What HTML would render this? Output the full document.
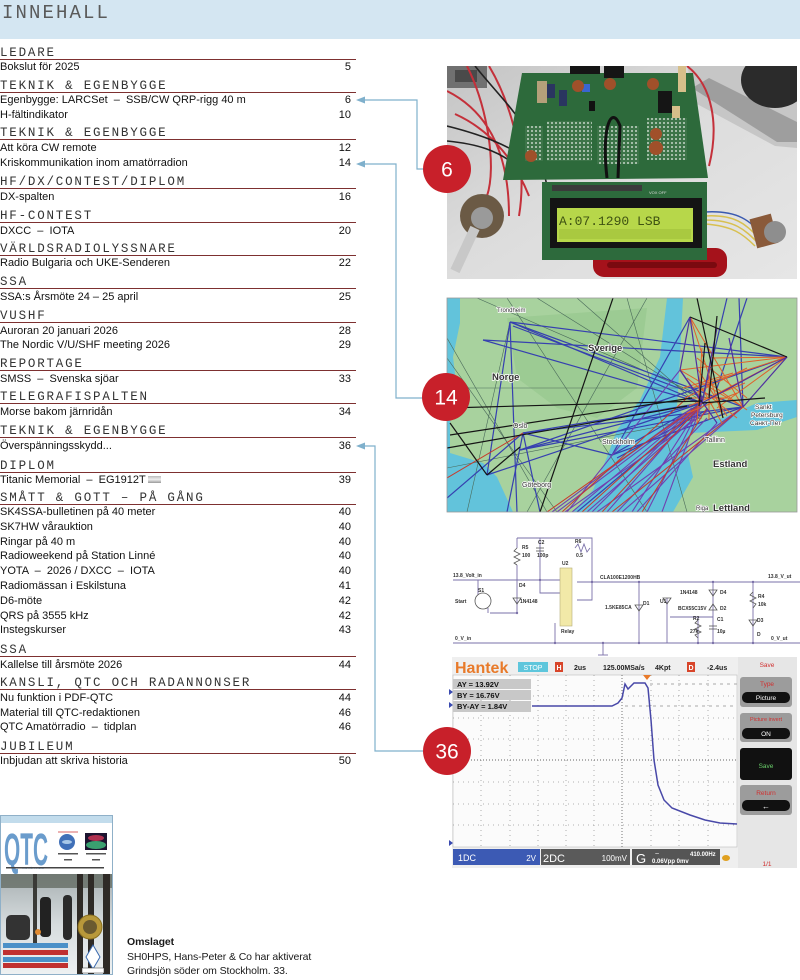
<!DOCTYPE html>
<html><head><meta charset="utf-8">
<style>
html,body{margin:0;padding:0;background:#fff;}
body{width:800px;height:980px;position:relative;overflow:hidden;font-family:"Liberation Sans",sans-serif;}
.band{position:absolute;left:0;top:0;width:800px;height:39px;background:#d4e6f2;}
.title{position:absolute;left:2px;top:2px;font:19px/22px "Liberation Mono",monospace;letter-spacing:2.1px;color:#5a5a5a;}
.sec{position:absolute;left:0;width:356px;}
.h{height:13px;padding-top:1px;border-bottom:1.5px solid #7d3030;font:12.5px/14px "Liberation Mono",monospace;letter-spacing:1.8px;color:#333;white-space:nowrap;}
.i{height:14.8px;line-height:14.8px;font-size:11px;color:#111;position:relative;top:0.5px;white-space:nowrap;}
.i b{position:absolute;right:5px;top:0;font-weight:normal;}
.flag{display:inline-block;width:13px;height:7px;background:linear-gradient(180deg,#bbb,#eee 50%,#999);vertical-align:0px;margin-left:2px;}
.cap{position:absolute;left:127px;top:935px;font-size:10.5px;line-height:14.5px;color:#1a1a1a;letter-spacing:-0.1px;}
svg{position:absolute;left:0;top:0;}
</style></head><body>
<div class="band"></div>
<div class="title">INNEHALL</div>

<div class="sec" style="top:44.8px"><div class="h">LEDARE</div>
<div class="i">Bokslut för 2025<b>5</b></div></div>

<div class="sec" style="top:77.5px"><div class="h">TEKNIK &amp; EGENBYGGE</div>
<div class="i">Egenbygge: LARCSet &nbsp;– &nbsp;SSB/CW QRP-rigg 40 m<b>6</b></div>
<div class="i">H-fältindikator<b>10</b></div></div>

<div class="sec" style="top:125.3px"><div class="h">TEKNIK &amp; EGENBYGGE</div>
<div class="i">Att köra CW remote<b>12</b></div>
<div class="i">Kriskommunikation inom amatörradion<b>14</b></div></div>

<div class="sec" style="top:174.3px"><div class="h">HF/DX/CONTEST/DIPLOM</div>
<div class="i">DX-spalten<b>16</b></div></div>

<div class="sec" style="top:208px"><div class="h">HF-CONTEST</div>
<div class="i">DXCC &nbsp;– &nbsp;IOTA<b>20</b></div></div>

<div class="sec" style="top:240.6px"><div class="h">VÄRLDSRADIOLYSSNARE</div>
<div class="i">Radio Bulgaria och UKE-Senderen<b>22</b></div></div>

<div class="sec" style="top:274.3px"><div class="h">SSA</div>
<div class="i">SSA:s Årsmöte 24 – 25 april<b>25</b></div></div>

<div class="sec" style="top:308px"><div class="h">VUSHF</div>
<div class="i">Auroran 20 januari 2026<b>28</b></div>
<div class="i">The Nordic V/U/SHF meeting 2026<b>29</b></div></div>

<div class="sec" style="top:356.3px"><div class="h">REPORTAGE</div>
<div class="i">SMSS &nbsp;– &nbsp;Svenska sjöar<b>33</b></div></div>

<div class="sec" style="top:389.3px"><div class="h">TELEGRAFISPALTEN</div>
<div class="i">Morse bakom järnridån<b>34</b></div></div>

<div class="sec" style="top:423px"><div class="h">TEKNIK &amp; EGENBYGGE</div>
<div class="i">Överspänningsskydd...<b>36</b></div></div>

<div class="sec" style="top:457.6px"><div class="h">DIPLOM</div>
<div class="i">Titanic Memorial &nbsp;– &nbsp;EG1912T<span class="flag"></span><b>39</b></div></div>

<div class="sec" style="top:489.6px"><div class="h">SMÅTT &amp; GOTT – PÅ GÅNG</div>
<div class="i">SK4SSA-bulletinen på 40 meter<b>40</b></div>
<div class="i">SK7HW vårauktion<b>40</b></div>
<div class="i">Ringar på 40 m<b>40</b></div>
<div class="i">Radioweekend på Station Linné<b>40</b></div>
<div class="i">YOTA &nbsp;– &nbsp;2026 / DXCC &nbsp;– &nbsp;IOTA<b>40</b></div>
<div class="i">Radiomässan i Eskilstuna<b>41</b></div>
<div class="i">D6-möte<b>42</b></div>
<div class="i">QRS på 3555 kHz<b>42</b></div>
<div class="i">Instegskurser<b>43</b></div></div>

<div class="sec" style="top:642px"><div class="h">SSA</div>
<div class="i">Kallelse till årsmöte 2026<b>44</b></div></div>

<div class="sec" style="top:675.3px"><div class="h">KANSLI, QTC OCH RADANNONSER</div>
<div class="i">Nu funktion i PDF-QTC<b>44</b></div>
<div class="i">Material till QTC-redaktionen<b>46</b></div>
<div class="i">QTC Amatörradio &nbsp;– &nbsp;tidplan<b>46</b></div></div>

<div class="sec" style="top:738.6px"><div class="h">JUBILEUM</div>
<div class="i">Inbjudan att skriva historia<b>50</b></div></div>

<div class="cap"><b>Omslaget</b><br>SH0HPS, Hans-Peter &amp; Co har aktiverat<br>Grindsjön söder om Stockholm. 33.</div>

<svg width="800" height="980" viewBox="0 0 800 980" xmlns="http://www.w3.org/2000/svg" font-family="Liberation Sans, sans-serif">
<defs>
<clipPath id="cp1"><rect x="447" y="66" width="350" height="213"/></clipPath>
<clipPath id="cp2"><rect x="447" y="298" width="350" height="214"/></clipPath>
<clipPath id="cp3"><rect x="0" y="815" width="113" height="160"/></clipPath>
<linearGradient id="bg1" x1="0" y1="0" x2="1" y2="1"><stop offset="0" stop-color="#c4c4c4"/><stop offset="0.45" stop-color="#dcdcdc"/><stop offset="1" stop-color="#e6e6e6"/></linearGradient>
<pattern id="dots" width="4" height="4" patternUnits="userSpaceOnUse"><rect width="4" height="4" fill="#3c7448"/><rect width="2" height="2" fill="#a3bda8"/></pattern>
<linearGradient id="snow" x1="0" y1="0" x2="0" y2="1"><stop offset="0" stop-color="#a8b0b2"/><stop offset="0.5" stop-color="#d6dcde"/><stop offset="1" stop-color="#eef1f2"/></linearGradient>
</defs>

<!-- PHOTO 1 -->
<g clip-path="url(#cp1)"><g transform="translate(447,66)">
<rect width="350" height="213" fill="url(#bg1)"/>
<rect x="0" y="0" width="40" height="22" fill="#707070"/>
<rect x="8" y="4" width="22" height="12" fill="#4a4a4a"/>
<polygon points="240,0 350,0 350,82 328,80 250,38" fill="#c6c6c6"/>
<polygon points="245,22 262,12 350,56 350,76 330,76" fill="#9e9e9e"/>
<ellipse cx="328" cy="14" rx="34" ry="28" fill="#2b2b2b"/>
<path d="M0 25 C40 45 62 85 62 150 M8 48 C48 66 70 100 82 130 M42 0 C60 30 82 90 72 150 M20 0 C40 40 50 100 40 130" stroke="#c4303a" stroke-width="2" fill="none"/>
<path d="M28 0 C60 40 88 60 100 120 M0 60 C40 70 60 80 80 92 M0 75 C30 78 50 84 70 100" stroke="#222" stroke-width="1.6" fill="none"/>
<path d="M240 0 C266 20 272 60 262 100" stroke="#c4303a" stroke-width="2" fill="none"/>
<rect x="146" y="182" width="134" height="29" rx="11" fill="#a5121b"/>
<rect x="160" y="196" width="110" height="6" rx="3" fill="#7a0a10"/>
<polygon points="75,7 246,7 261,112 56,114" fill="#2d6a3b"/>
<rect x="100" y="55" width="45" height="40" fill="url(#dots)"/>
<rect x="150" y="60" width="42" height="38" fill="url(#dots)"/>
<rect x="200" y="52" width="40" height="42" fill="url(#dots)"/>
<rect x="78" y="60" width="18" height="35" fill="url(#dots)"/>
<rect x="100" y="18" width="8" height="14" fill="#2a3560"/>
<rect x="112" y="24" width="8" height="16" fill="#2a3560"/>
<rect x="90" y="15" width="10" height="22" fill="#b5a07a"/>
<rect x="123" y="0" width="30" height="8" fill="#151515"/>
<rect x="157" y="0" width="20" height="12" fill="#151515"/>
<rect x="135" y="18" width="8" height="8" fill="#3a66d0"/>
<circle cx="131" cy="20" r="6" fill="#a0502a"/><circle cx="163" cy="18" r="6" fill="#a0502a"/>
<circle cx="206" cy="18" r="6" fill="#a0502a"/><circle cx="84" cy="90" r="6" fill="#a0502a"/>
<circle cx="209" cy="68" r="6" fill="#a0502a"/><circle cx="209" cy="82" r="7" fill="#a0502a"/>
<rect x="211" y="25" width="14" height="22" fill="#151515"/>
<rect x="231" y="0" width="8" height="26" fill="#d6bf8a"/>
<rect x="225" y="40" width="8" height="12" fill="#d6bf8a"/>
<rect x="142" y="35" width="6" height="10" fill="#111"/>
<path d="M160 112 C154 60 165 38 173 60 L171 112" stroke="#111" stroke-width="3" fill="none"/>
<path d="M258 150 C290 148 300 160 312 172 M258 154 C288 154 298 164 310 176 M258 158 C286 160 296 168 308 180" stroke="#d8c050" stroke-width="1.5" fill="none"/>
<path d="M258 146 C292 144 304 156 314 168" stroke="#3a5ab0" stroke-width="1.5" fill="none"/>
<rect x="95" y="116" width="165" height="78" fill="#2d6a3c"/>
<rect x="105" y="119" width="90" height="6" fill="#3a3a3a"/>
<rect x="103" y="132" width="152" height="50" fill="#141414"/>
<rect x="110" y="142" width="136" height="34" fill="#b7d74a"/>
<text x="112" y="159" font-family="Liberation Mono, monospace" font-size="13" fill="#3e5212">A:07.1290 LSB</text>
<rect x="112" y="163" width="132" height="10" fill="#a9c940"/>
<text x="202" y="128" font-size="4" fill="#ddd">VOX OFF</text>
<circle cx="35" cy="150" r="22" fill="#6b5a45"/>
<circle cx="35" cy="152" r="11" fill="#9a9a9a"/>
<line x1="28" y1="162" x2="8" y2="205" stroke="#c8c8c8" stroke-width="10"/>
<rect x="306" y="150" width="22" height="30" fill="#8a5a3a" transform="rotate(-15 317 165)"/>
<circle cx="328" cy="166" r="11" fill="#8e8e8e"/>
</g></g>

<!-- MAP -->
<g clip-path="url(#cp2)"><g transform="translate(447,298)">
<rect width="350" height="214" fill="#62c3db"/>
<polygon points="13,0 220,0 213,59 193,102 170,132 160,159 146,192 126,214 66,214 50,179 36,165 3,155 3,125 10,92 6,59 13,25" fill="#a8d29e"/>
<polygon points="60,20 200,10 190,90 150,120 110,110 70,80" fill="#9ccb93"/>
<polygon points="236,0 350,0 350,102 310,105 276,120 243,125 230,109 233,59" fill="#a8d29e"/>
<polygon points="243,135 310,132 350,119 350,214 226,214 246,179 240,152" fill="#a8d29e"/>
<g stroke="#4a6a5a" stroke-width="0.6" fill="none">
<line x1="0" y1="40" x2="100" y2="214"/><line x1="30" y1="0" x2="260" y2="100"/><line x1="90" y1="0" x2="250" y2="100"/>
<line x1="130" y1="0" x2="255" y2="110"/><line x1="20" y1="214" x2="63" y2="24"/><line x1="200" y1="0" x2="80" y2="214"/>
<line x1="0" y1="90" x2="260" y2="90"/><line x1="180" y1="0" x2="240" y2="214"/><line x1="110" y1="214" x2="0" y2="60"/>
<line x1="60" y1="0" x2="200" y2="214"/><line x1="0" y1="170" x2="255" y2="120"/>
</g>
<g stroke="#3640b0" stroke-width="1.2">
<line x1="63" y1="24" x2="255" y2="105"/><line x1="63" y1="24" x2="296" y2="109"/><line x1="63" y1="24" x2="340" y2="59"/>
<line x1="66" y1="28" x2="258" y2="100"/><line x1="36" y1="42" x2="255" y2="105"/><line x1="36" y1="42" x2="340" y2="59"/>
<line x1="76" y1="135" x2="255" y2="105"/><line x1="76" y1="135" x2="165" y2="157"/><line x1="76" y1="135" x2="296" y2="109"/>
<line x1="73" y1="152" x2="255" y2="105"/><line x1="73" y1="152" x2="296" y2="109"/><line x1="165" y1="157" x2="255" y2="105"/>
<line x1="165" y1="157" x2="243" y2="19"/><line x1="165" y1="157" x2="296" y2="109"/><line x1="40" y1="177" x2="255" y2="105"/>
<line x1="63" y1="24" x2="70" y2="214"/><line x1="63" y1="24" x2="40" y2="177"/><line x1="76" y1="135" x2="93" y2="214"/>
<line x1="76" y1="135" x2="60" y2="214"/><line x1="0" y1="200" x2="76" y2="135"/><line x1="280" y1="0" x2="255" y2="105"/>
<line x1="292" y1="0" x2="296" y2="109"/><line x1="300" y1="0" x2="270" y2="90"/><line x1="130" y1="214" x2="260" y2="105"/>
<line x1="73" y1="152" x2="340" y2="59"/><line x1="170" y1="160" x2="260" y2="112"/>
</g>
<g stroke="#7040b0" stroke-width="1.1">
<line x1="255" y1="105" x2="110" y2="214"/><line x1="255" y1="105" x2="125" y2="214"/><line x1="255" y1="105" x2="145" y2="214"/>
<line x1="255" y1="105" x2="160" y2="214"/><line x1="255" y1="105" x2="185" y2="214"/><line x1="255" y1="105" x2="200" y2="214"/>
<line x1="255" y1="105" x2="215" y2="214"/><line x1="296" y1="109" x2="150" y2="214"/><line x1="296" y1="109" x2="175" y2="214"/>
<line x1="233" y1="72" x2="120" y2="214"/><line x1="270" y1="125" x2="190" y2="214"/><line x1="245" y1="110" x2="105" y2="214"/>
<line x1="260" y1="120" x2="170" y2="214"/><line x1="250" y1="118" x2="140" y2="214"/><line x1="262" y1="112" x2="118" y2="214"/>
</g>
<g stroke="#c83a2a" stroke-width="1">
<line x1="255" y1="105" x2="100" y2="214"/><line x1="250" y1="110" x2="135" y2="214"/><line x1="296" y1="109" x2="165" y2="214"/>
<line x1="76" y1="135" x2="0" y2="180"/><line x1="240" y1="100" x2="115" y2="214"/><line x1="260" y1="110" x2="195" y2="214"/>
<line x1="250" y1="112" x2="155" y2="214"/>
</g>
<g stroke="#e0602a" stroke-width="1">
<line x1="233" y1="72" x2="296" y2="109"/><line x1="243" y1="19" x2="296" y2="109"/><line x1="243" y1="19" x2="276" y2="120"/>
<line x1="250" y1="60" x2="300" y2="100"/><line x1="240" y1="80" x2="290" y2="120"/><line x1="238" y1="100" x2="300" y2="70"/>
<line x1="255" y1="50" x2="250" y2="125"/><line x1="265" y1="60" x2="340" y2="59"/><line x1="262" y1="100" x2="340" y2="59"/>
<line x1="270" y1="110" x2="340" y2="59"/><line x1="245" y1="90" x2="340" y2="59"/><line x1="233" y1="72" x2="340" y2="59"/>
<line x1="250" y1="70" x2="280" y2="118"/><line x1="240" y1="115" x2="290" y2="95"/><line x1="258" y1="82" x2="300" y2="112"/>
<line x1="236" y1="90" x2="286" y2="75"/><line x1="245" y1="100" x2="280" y2="100"/><line x1="255" y1="90" x2="275" y2="125"/>
<line x1="242" y1="108" x2="298" y2="85"/><line x1="262" y1="70" x2="262" y2="122"/>
</g>
<g stroke="#5030a0" stroke-width="1.2">
<line x1="243" y1="19" x2="255" y2="105"/><line x1="243" y1="19" x2="233" y2="72"/><line x1="233" y1="72" x2="255" y2="105"/>
<line x1="255" y1="105" x2="340" y2="59"/><line x1="296" y1="109" x2="340" y2="59"/><line x1="270" y1="30" x2="255" y2="105"/>
<line x1="233" y1="72" x2="270" y2="125"/><line x1="282" y1="40" x2="296" y2="109"/>
</g>
<g stroke="#151515" stroke-width="1.2">
<line x1="0" y1="110" x2="255" y2="103"/><line x1="3" y1="137" x2="245" y2="100"/><line x1="0" y1="150" x2="240" y2="108"/>
<line x1="166" y1="0" x2="93" y2="214"/><line x1="3" y1="125" x2="40" y2="177"/><line x1="40" y1="177" x2="73" y2="149"/>
<line x1="243" y1="19" x2="340" y2="59"/><line x1="258" y1="45" x2="252" y2="108"/><line x1="270" y1="18" x2="262" y2="100"/>
<line x1="250" y1="0" x2="276" y2="120"/><line x1="255" y1="105" x2="318" y2="100"/>
</g>
<g font-weight="bold" fill="#333" stroke="#fff" stroke-width="1.5" paint-order="stroke">
<text x="141" y="53" font-size="9.5">Sverige</text>
<text x="45" y="82" font-size="9.5">Norge</text>
<text x="266" y="169" font-size="9.5">Estland</text>
<text x="266" y="213" font-size="9.5">Lettland</text>
<text x="155" y="146" font-size="7" font-weight="normal">Stockholm</text>
<text x="66" y="130" font-size="7" font-weight="normal">Oslo</text>
<text x="75" y="189" font-size="7" font-weight="normal">Göteborg</text>
<text x="258" y="144" font-size="7" font-weight="normal">Tallinn</text>
<text x="249" y="212" font-size="6" font-weight="normal">Riga</text>
<text x="50" y="14" font-size="6" font-weight="normal">Trondheim</text>
<text x="308" y="111" font-size="6.5" font-weight="normal">Sankt</text>
<text x="304" y="119" font-size="6.5" font-weight="normal">Petersburg</text>
<text x="303" y="127" font-size="6.5" font-weight="normal">Санкт-Пет</text>
</g>
</g></g>
<rect x="447" y="298" width="350" height="214" fill="none" stroke="#999" stroke-width="0.8"/>

<!-- CIRCUIT -->
<g stroke="#7a70a8" stroke-width="0.9" fill="none">
<line x1="453" y1="580" x2="562" y2="580"/><line x1="577" y1="582" x2="800" y2="582"/>
<line x1="453" y1="643" x2="800" y2="643"/>
<polyline points="517,538 592,538 592,600 577,600"/>
<line x1="517" y1="538" x2="517" y2="548"/><line x1="517" y1="565" x2="517" y2="613"/>
<polyline points="490,613 517,613"/>
<polyline points="540,538 540,593 562,593"/>
<polyline points="575,548 578,544 581,552 584,544 587,552 590,548"/>
<line x1="555" y1="623" x2="555" y2="643"/>
<line x1="639" y1="582" x2="639" y2="643"/>
<line x1="667" y1="598" x2="667" y2="643"/>
<line x1="713" y1="582" x2="713" y2="643"/>
<polyline points="670,617 713,617"/>
<line x1="698" y1="617" x2="698" y2="643"/>
<line x1="753" y1="582" x2="753" y2="643"/>
<line x1="603" y1="643" x2="603" y2="655"/><line x1="598" y1="655" x2="608" y2="655"/>
<line x1="478" y1="580" x2="478" y2="595"/><line x1="488" y1="608" x2="488" y2="613"/>
</g>
<g stroke="#555" stroke-width="0.8" fill="none">
<polyline points="517,548 514,551 520,554 514,557 520,560 514,563 517,565"/>
<polyline points="698,620 695,623 701,626 695,629 701,632 695,635 698,638"/>
<polyline points="753,592 750,595 756,598 750,601 756,604 753,608"/>
<line x1="536" y1="548" x2="544" y2="548"/><line x1="536" y1="551" x2="544" y2="551"/>
<line x1="709" y1="626" x2="717" y2="626"/><line x1="709" y1="629" x2="717" y2="629"/>
<circle cx="483" cy="601" r="8"/>
<polygon points="513,598 521,598 517,604"/><polygon points="635,605 643,605 639,611"/>
<polygon points="709,590 717,590 713,596"/><polygon points="709,610 717,610 713,604"/>
<polygon points="749,620 757,620 753,626"/><polygon points="663,598 671,598 667,604"/>
</g>
<rect x="560" y="568" width="12" height="58" fill="#f2e9a8" stroke="#b5ad7a" stroke-width="0.6"/>
<g fill="#7a70a8"><circle cx="517" cy="613" r="1.2"/><circle cx="540" cy="580" r="1.2"/><circle cx="592" cy="582" r="1.2"/><circle cx="639" cy="582" r="1.2"/><circle cx="713" cy="582" r="1.2"/><circle cx="753" cy="582" r="1.2"/><circle cx="639" cy="643" r="1.2"/><circle cx="698" cy="643" r="1.2"/><circle cx="713" cy="643" r="1.2"/><circle cx="753" cy="643" r="1.2"/><circle cx="555" cy="643" r="1.2"/><circle cx="603" cy="643" r="1.2"/></g>
<g font-size="5" font-weight="bold" fill="#333">
<text x="453" y="577">13.8_Volt_in</text><text x="478" y="592">S1</text><text x="455" y="603">Start</text>
<text x="522" y="549">R5</text><text x="522" y="557">100</text><text x="538" y="544">C2</text><text x="537" y="557">100p</text>
<text x="575" y="543">R6</text><text x="576" y="557">0.5</text><text x="562" y="565">U2</text>
<text x="519" y="587">D4</text><text x="520" y="603">1N4148</text><text x="561" y="633">Relay</text>
<text x="600" y="579">CLA100E1200HB</text><text x="605" y="609">1.5KE85CA</text><text x="643" y="605">D1</text>
<text x="660" y="603">U1</text><text x="680" y="594">1N4148</text><text x="720" y="594">D4</text>
<text x="678" y="610">BCX55C15V</text><text x="720" y="610">D2</text><text x="693" y="620">R2</text><text x="690" y="633">27k</text>
<text x="717" y="621">C1</text><text x="717" y="633">10µ</text><text x="758" y="598">R4</text><text x="758" y="606">10k</text>
<text x="757" y="622">D3</text><text x="757" y="636">D</text>
<text x="768" y="578">13.8_V_ut</text><text x="455" y="640">0_V_in</text><text x="771" y="640">0_V_ut</text>
</g>

<!-- SCOPE -->
<rect x="452" y="657" width="345" height="211" fill="#efefef"/>
<text x="455" y="673" font-size="16" font-weight="bold" fill="#e87a2a">Hantek</text>
<rect x="518" y="662" width="30" height="10" fill="#5ec6dc"/><text x="533" y="670" font-size="7" fill="#fff" text-anchor="middle">STOP</text>
<rect x="555" y="662" width="8" height="10" fill="#d8452a"/><text x="559" y="670" font-size="7" font-weight="bold" fill="#fff" text-anchor="middle">H</text>
<g font-size="7" font-weight="bold" fill="#222"><text x="574" y="670">2us</text><text x="603" y="670">125.00MSa/s</text><text x="655" y="670">4Kpt</text><text x="707" y="670">-2.4us</text></g>
<rect x="687" y="662" width="8" height="10" fill="#d8452a"/><text x="691" y="670" font-size="7" font-weight="bold" fill="#fff" text-anchor="middle">D</text>
<rect x="453" y="675" width="284" height="172" fill="#fbfbfb" stroke="#bbb" stroke-width="0.6"/>
<g stroke="#9a9a9a" stroke-width="0.8" stroke-dasharray="1,4">
<line x1="453" y1="696" x2="737" y2="696"/><line x1="453" y1="718" x2="737" y2="718"/><line x1="453" y1="739" x2="737" y2="739"/>
<line x1="453" y1="782" x2="737" y2="782"/><line x1="453" y1="804" x2="737" y2="804"/><line x1="453" y1="825" x2="737" y2="825"/>
<line x1="481" y1="675" x2="481" y2="847"/><line x1="510" y1="675" x2="510" y2="847"/><line x1="538" y1="675" x2="538" y2="847"/>
<line x1="566" y1="675" x2="566" y2="847"/><line x1="594" y1="675" x2="594" y2="847"/><line x1="651" y1="675" x2="651" y2="847"/>
<line x1="679" y1="675" x2="679" y2="847"/><line x1="708" y1="675" x2="708" y2="847"/>
</g>
<g stroke="#666" stroke-width="0.9" stroke-dasharray="1,2">
<line x1="453" y1="760" x2="737" y2="760"/><line x1="622" y1="675" x2="622" y2="847"/>
</g>
<g stroke="#aaa" stroke-width="1" stroke-dasharray="3,4"><line x1="650" y1="684" x2="737" y2="684"/><line x1="625" y1="706" x2="737" y2="706"/></g>
<polygon points="643,675 651,675 647,680" fill="#e87a2a"/>
<rect x="453" y="679" width="78" height="10" fill="#c8c8c8"/><rect x="453" y="690" width="78" height="10" fill="#c8c8c8"/><rect x="453" y="701" width="78" height="11" fill="#c8c8c8"/>
<g font-size="7.5" font-weight="bold" fill="#111"><text x="457" y="687">AY    = 13.92V</text><text x="457" y="698">BY    = 16.76V</text><text x="457" y="709">BY-AY = 1.84V</text></g>
<polygon points="449,689 453,692 449,695" fill="#3a4ab0"/><polygon points="449,702 453,705 449,708" fill="#3a4ab0"/><polygon points="449,840 453,843 449,846" fill="#3a4ab0"/>
<path d="M532 706 L612 706 L618 703 L622 698 L625 684 L628 689 L631 686 L634 683 L645 683 L648 688 L651 720 L654 760 L658 785 L664 800 L672 808 L690 815 L705 820 L720 823 L737 824" stroke="#4848a8" stroke-width="1.5" fill="none"/>
<rect x="738" y="657" width="59" height="211" fill="#e6e6e6"/>
<text x="767" y="667" font-size="6.5" fill="#d03030" text-anchor="middle">Save</text>
<rect x="740" y="677" width="52" height="30" rx="3" fill="#9c9c9c"/><text x="767" y="686" font-size="6.5" fill="#d03030" text-anchor="middle">Type</text>
<rect x="742" y="692" width="48" height="11" rx="5" fill="#111"/><text x="766" y="700" font-size="6.5" fill="#fff" text-anchor="middle">Picture</text>
<rect x="740" y="713" width="52" height="29" rx="3" fill="#9c9c9c"/><text x="766" y="721" font-size="5.5" fill="#d03030" text-anchor="middle">Picture invert</text>
<rect x="742" y="728" width="48" height="11" rx="5" fill="#111"/><text x="766" y="736" font-size="6.5" fill="#fff" text-anchor="middle">ON</text>
<rect x="740" y="748" width="52" height="32" rx="3" fill="#111"/><text x="766" y="768" font-size="6.5" fill="#6ad06a" text-anchor="middle">Save</text>
<rect x="740" y="785" width="52" height="30" rx="3" fill="#9c9c9c"/><text x="766" y="795" font-size="6.5" fill="#d03030" text-anchor="middle">Return</text>
<rect x="742" y="800" width="48" height="11" rx="5" fill="#111"/><text x="766" y="809" font-size="8" fill="#fff" text-anchor="middle">←</text>
<text x="767" y="866" font-size="6.5" fill="#d03030" text-anchor="middle">1/1</text>
<rect x="453" y="849" width="87" height="16" fill="#3c5ab4"/><text x="458" y="861" font-size="9" fill="#fff">1DC</text><text x="536" y="861" font-size="8" fill="#fff" text-anchor="end">2V</text>
<rect x="541" y="849" width="89" height="16" fill="#5a5a5a"/><text x="543" y="862" font-size="11" fill="#fff">2DC</text><text x="627" y="861" font-size="8" fill="#fff" text-anchor="end">100mV</text>
<rect x="632" y="849" width="88" height="16" fill="#555"/><text x="636" y="863" font-size="13" fill="#fff">G</text>
<text x="655" y="856" font-size="7" fill="#fff">~</text><text x="690" y="856" font-size="6" font-weight="bold" fill="#fff">410.00Hz</text><text x="652" y="863" font-size="6" font-weight="bold" fill="#fff">0.06Vpp  0mv</text>
<ellipse cx="726" cy="858" rx="4" ry="3" fill="#e0a020"/>

<!-- COVER -->
<g clip-path="url(#cp3)">
<rect x="0" y="815" width="113" height="160" fill="#fff"/>
<rect x="1" y="816" width="111" height="7" fill="#c2dcec"/>
<text x="4" y="865" font-size="45" font-weight="bold" fill="#6a9ccc" textLength="44" lengthAdjust="spacingAndGlyphs">QTC</text>
<text x="22" y="869" font-size="3" fill="#6a9ccc">AMATÖRRADIO</text>
<line x1="58" y1="832" x2="78" y2="832" stroke="#c33" stroke-width="0.8"/>
<circle cx="67" cy="842" r="8" fill="#4070b8"/><ellipse cx="67" cy="842" rx="5" ry="2" fill="#a8c8e8"/>
<rect x="85" y="833" width="22" height="17" fill="#1c1430"/><ellipse cx="96" cy="845" rx="10" ry="4" fill="#3aa070"/><ellipse cx="96" cy="838" rx="8" ry="3" fill="#b03050"/>
<rect x="58" y="853" width="20" height="1.5" fill="#555"/><rect x="86" y="853" width="20" height="1.5" fill="#555"/>
<rect x="64" y="859" width="8" height="1.5" fill="#555"/><rect x="92" y="859" width="8" height="1.5" fill="#555"/>
<rect x="6" y="867" width="98" height="1.5" fill="#444"/>
<rect x="1" y="874" width="111" height="101" fill="url(#snow)"/>
<rect x="1" y="874" width="111" height="14" fill="#5a6258" opacity="0.7"/>
<rect x="33" y="874" width="4" height="70" fill="#3a3a36"/>
<rect x="77" y="874" width="6" height="101" fill="#2e2a26"/><rect x="88" y="874" width="6" height="101" fill="#2e2a26"/><rect x="103" y="874" width="7" height="101" fill="#2e2a26"/>
<rect x="40" y="897" width="11" height="40" rx="4" fill="#222"/><rect x="63" y="895" width="9" height="45" rx="4" fill="#2a2a2a"/>
<rect x="6" y="915" width="24" height="25" rx="5" fill="#333"/>
<circle cx="38" cy="932" r="3" fill="#e08a30"/>
<circle cx="90" cy="927" r="12" fill="#b8983a" stroke="#8a7020"/><circle cx="90" cy="927" r="7" fill="#6a5a30"/>
<polygon points="93,945 100,957 93,969 86,957" fill="#fff" stroke="#3a6ab0"/>
<rect x="3" y="943" width="65" height="5" fill="#4a90c8"/><rect x="3" y="950" width="65" height="5" fill="#c03030"/>
<rect x="3" y="957" width="65" height="5" fill="#4a90c8"/><rect x="3" y="963" width="65" height="5" fill="#c03030"/>
<rect x="82" y="968" width="22" height="5" fill="#fff" stroke="#333" stroke-width="0.5"/>
</g>
<rect x="0.5" y="815.5" width="112" height="159" fill="none" stroke="#8fb0c8" stroke-width="1"/>

<!-- CONNECTORS -->
<g stroke="#7fb0cc" stroke-width="1.2" fill="none">
<polyline points="363,100 417,100 417,169 425,169"/>
<polyline points="363,164 396,164 396,398 425,398"/>
<polyline points="363,446 375,446 375,751 425,751"/>
</g>
<g fill="#7fb0cc">
<polygon points="356,100 365,96.5 365,103.5"/>
<polygon points="356,164 365,160.5 365,167.5"/>
<polygon points="356,446 365,442.5 365,449.5"/>
</g>
<g fill="#c8202a">
<circle cx="447" cy="169" r="24"/><circle cx="446" cy="397" r="24"/><circle cx="447" cy="751" r="24"/>
</g>
<g fill="#fff" font-size="21" text-anchor="middle">
<text x="447" y="176.5">6</text><text x="446" y="404.5">14</text><text x="447" y="758.5">36</text>
</g>
</svg>
</body></html>
